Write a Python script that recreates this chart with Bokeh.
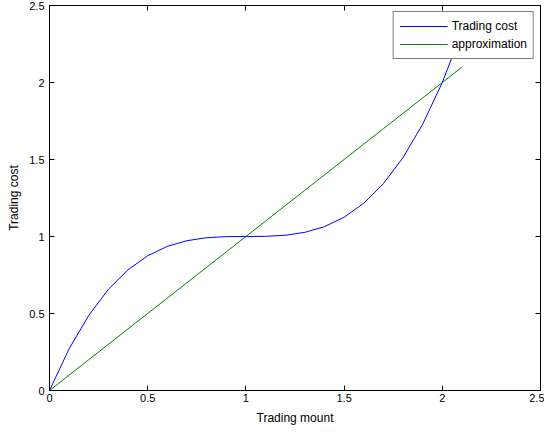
from bokeh.plotting import figure
from bokeh.models import LinearAxis, Range1d, Legend, LegendItem, FixedTicker
from bokeh.embed import file_html
from bokeh.resources import INLINE

# Data
x_cost = [0.0, 0.1, 0.2, 0.3, 0.4, 0.5, 0.6, 0.7, 0.8, 0.9, 1.0,
          1.1, 1.2, 1.3, 1.4, 1.5, 1.6, 1.7, 1.8, 1.9, 2.0, 2.1]
y_cost = [0.0, 0.271, 0.488, 0.657, 0.784, 0.875, 0.936, 0.973, 0.992, 0.999, 1.0,
          1.001, 1.008, 1.027, 1.064, 1.125, 1.216, 1.343, 1.512, 1.729, 2.0, 2.331]
x_approx = [0.0, 0.1, 0.2, 0.3, 0.4, 0.5, 0.6, 0.7, 0.8, 0.9, 1.0,
            1.1, 1.2, 1.3, 1.4, 1.5, 1.6, 1.7, 1.8, 1.9, 2.0, 2.1]
y_approx = [0.0, 0.1, 0.2, 0.3, 0.4, 0.5, 0.6, 0.7, 0.8, 0.9, 1.0,
            1.1, 1.2, 1.3, 1.4, 1.5, 1.6, 1.7, 1.8, 1.9, 2.0, 2.1]
ticks = [0, 0.5, 1, 1.5, 2, 2.5]
tick_labels = {0: "0", 0.5: "0.5", 1: "1", 1.5: "1.5", 2: "2", 2.5: "2.5"}

FONT = "Liberation Sans"

p = figure(frame_width=491, frame_height=385, output_backend="svg", toolbar_location=None,
           x_range=Range1d(0, 2.5), y_range=Range1d(0, 2.5),
           min_border_left=57, min_border_right=4, min_border_top=13, min_border_bottom=42)
p.styles = {"margin": "-8px"}
p.xgrid.visible = False
p.ygrid.visible = False
p.outline_line_color = "black"
p.outline_line_width = 1
p.background_fill_color = "white"
p.border_fill_color = "white"

r1 = p.line(x_cost, y_cost, line_color="#0000FF", line_width=1)
r2 = p.line(x_approx, y_approx, line_color="#008000", line_width=1)

bottom = p.below[0]
left = p.left[0]
bottom.axis_label = "Trading mount"
left.axis_label = "Trading cost"

top = LinearAxis()
right = LinearAxis()
p.add_layout(top, "above")
p.add_layout(right, "right")

for ax in [bottom, left, top, right]:
    ax.ticker = FixedTicker(ticks=ticks)
    ax.major_tick_in = 5
    ax.major_tick_out = 0
    ax.minor_tick_in = 0
    ax.minor_tick_out = 0
    ax.axis_line_color = "black"
    ax.major_tick_line_color = "black"
    ax.major_label_text_font = FONT
    ax.major_label_text_font_size = "11px"
    ax.major_label_text_color = "black"
    ax.axis_label_text_font = FONT
    ax.axis_label_text_font_size = "12px"
    ax.axis_label_text_font_style = "normal"
    ax.axis_label_text_color = "black"

bottom.major_label_overrides = tick_labels
left.major_label_overrides = tick_labels
for ax in [top, right]:
    ax.major_label_overrides = {t: "" for t in ticks}
    ax.major_label_standoff = 0

bottom.major_label_standoff = 3
left.major_label_standoff = 5
bottom.axis_label_standoff = 6
left.axis_label_standoff = 5

legend = Legend(items=[LegendItem(label="Trading cost", renderers=[r1]),
                       LegendItem(label="approximation", renderers=[r2])],
                location="top_right")
legend.margin = 6
legend.padding = 6
legend.spacing = 2
legend.border_line_color = "black"
legend.border_line_width = 1
legend.background_fill_color = "white"
legend.background_fill_alpha = 1
legend.glyph_width = 48
legend.glyph_height = 16
legend.label_height = 16
legend.label_standoff = 4
legend.label_text_font = FONT
legend.label_text_font_size = "12px"
legend.label_text_color = "black"
p.add_layout(legend)

open("out.html", "w").write(file_html(p, INLINE))
